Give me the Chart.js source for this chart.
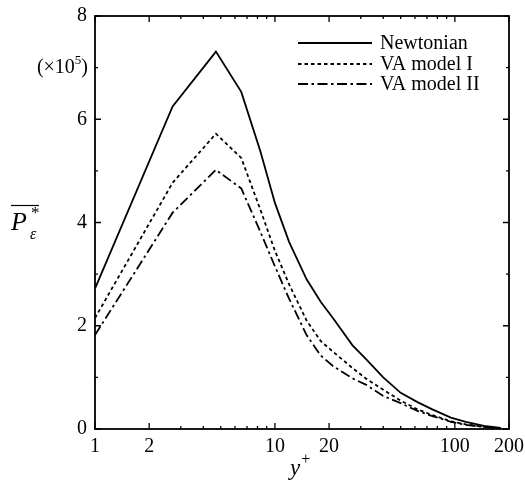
<!DOCTYPE html>
<html>
<head>
<meta charset="utf-8">
<script src="https://cdn.jsdelivr.net/npm/chart.js@4/dist/chart.umd.min.js"></script>
<style>
  html, body { margin: 0; padding: 0; background: #fff; }
  #wrap { width: 525px; height: 497px; position: relative; }
</style>
</head>
<body>
<div id="wrap"><canvas id="c"></canvas></div>
<script>
// ---- data ----
const yPlus = [1, 2.7, 4.7, 6.5, 8.3, 10, 12, 15, 18, 21, 27, 32, 40, 50, 62, 75, 95, 115, 145, 180];
const newtonian = [2.72, 6.25, 7.31, 6.53, 5.38, 4.38, 3.62, 2.90, 2.46, 2.15, 1.62, 1.36, 1.00, 0.70, 0.52, 0.38, 0.22, 0.14, 0.06, 0.02];
const vaModelI  = [2.15, 4.77, 5.72, 5.25, 4.25, 3.45, 2.80, 2.10, 1.70, 1.50, 1.18, 0.98, 0.76, 0.55, 0.38, 0.27, 0.15, 0.09, 0.04, 0.01];
const vaModelII = [1.82, 4.19, 5.02, 4.66, 3.82, 3.15, 2.52, 1.82, 1.42, 1.22, 0.98, 0.86, 0.64, 0.50, 0.35, 0.25, 0.14, 0.08, 0.04, 0.01];
const seriesLabels = ['Newtonian', 'VA model I', 'VA model II'];
const xTickValues = [1,2,3,4,5,6,7,8,9,10,20,30,40,50,60,70,80,90,100,200];
const xTickLabels = [1, 2, 10, 20, 100, 200];
const yTickValues = [0,1,2,3,4,5,6,7,8];
const yTickLabels = [0, 2, 4, 6, 8];

const FONT = '"Liberation Serif", "DejaVu Serif", serif';

function pts(vals) { return yPlus.map((x, i) => ({x: x, y: vals[i]})); }

const dashes = [[], [3.5, 3], [10, 3.5, 2.5, 3.5]];

const framePlugin = {
  id: 'frame',
  afterDatasetsDraw(chart) {
    const ctx = chart.ctx;
    const a = chart.chartArea;
    const xs = chart.scales.x, ys = chart.scales.y;
    ctx.save();
    ctx.strokeStyle = '#000';
    ctx.lineWidth = 1.8;
    ctx.setLineDash([]);
    ctx.strokeRect(a.left, a.top, a.right - a.left, a.bottom - a.top);
    ctx.lineWidth = 1.3;
    // x ticks (inward, bottom and top)
    xTickValues.forEach(v => {
      const px = xs.getPixelForValue(v);
      const len = xTickLabels.includes(v) ? 6 : 3;
      ctx.beginPath();
      ctx.moveTo(px, a.bottom); ctx.lineTo(px, a.bottom - len);
      ctx.moveTo(px, a.top); ctx.lineTo(px, a.top + len);
      ctx.stroke();
    });
    // y ticks (inward, left and right)
    yTickValues.forEach(v => {
      const py = ys.getPixelForValue(v);
      const len = yTickLabels.includes(v) ? 6 : 3;
      ctx.beginPath();
      ctx.moveTo(a.left, py); ctx.lineTo(a.left + len, py);
      ctx.moveTo(a.right, py); ctx.lineTo(a.right - len, py);
      ctx.stroke();
    });

    // legend inside plot
    const lx0 = a.right - 211, lx1 = a.right - 137, tx = a.right - 129;
    const rows = [a.top + 27, a.top + 48, a.top + 68];
    ctx.font = '20px ' + FONT;
    ctx.fillStyle = '#000';
    ctx.textBaseline = 'middle';
    ctx.textAlign = 'left';
    chart.data.datasets.forEach((ds, i) => {
      ctx.beginPath();
      ctx.lineWidth = 1.8;
      ctx.setLineDash(ds.borderDash || []);
      ctx.moveTo(lx0, rows[i]); ctx.lineTo(lx1, rows[i]);
      ctx.stroke();
      ctx.setLineDash([]);
      ctx.fillText(ds.label, tx, rows[i] + 1);
    });

    // (×10^5) multiplier
    const my = ys.getPixelForValue(7);
    ctx.font = '20px ' + FONT;
    const w1 = ctx.measureText('(×10').width;
    ctx.font = '13px ' + FONT;
    const w2 = ctx.measureText('5').width;
    ctx.font = '20px ' + FONT;
    const w3 = ctx.measureText(')').width;
    let sx = a.left - 7 - (w1 + w2 + w3);
    ctx.fillText('(×10', sx, my);
    ctx.font = '13px ' + FONT;
    ctx.fillText('5', sx + w1, my - 7);
    ctx.font = '20px ' + FONT;
    ctx.fillText(')', sx + w1 + w2, my);

    // y-axis title: overline P*_ε
    const ty = ys.getPixelForValue(4);
    ctx.font = 'italic 26px ' + FONT;
    ctx.fillText('P', 11, ty + 1);
    ctx.font = '17px ' + FONT;
    ctx.fillText('*', 31, ty - 9);
    ctx.font = 'italic 16px ' + FONT;
    ctx.fillText('ε', 30, ty + 12);
    ctx.beginPath();
    ctx.lineWidth = 1.2;
    ctx.moveTo(11, ty - 17); ctx.lineTo(39, ty - 17);
    ctx.stroke();

    // x-axis title: y+
    ctx.font = 'italic 23px ' + FONT;
    const wy = ctx.measureText('y').width;
    const cx = 302, cy = 469;
    ctx.fillText('y', cx - 12, cy);
    ctx.font = '16px ' + FONT;
    ctx.fillText('+', cx - 12 + wy + 1, cy - 9);
    ctx.restore();
  }
};

new Chart(document.getElementById('c'), {
  type: 'line',
  data: {
    datasets: [
      { label: seriesLabels[0], data: pts(newtonian), borderColor: '#000', borderWidth: 1.8, borderDash: dashes[0], pointRadius: 0, tension: 0, fill: false },
      { label: seriesLabels[1], data: pts(vaModelI), borderColor: '#000', borderWidth: 1.8, borderDash: dashes[1], pointRadius: 0, tension: 0, fill: false },
      { label: seriesLabels[2], data: pts(vaModelII), borderColor: '#000', borderWidth: 1.8, borderDash: dashes[2], pointRadius: 0, tension: 0, fill: false }
    ]
  },
  options: {
    responsive: true,
    maintainAspectRatio: false,
    animation: false,
    layout: { padding: { top: 16, right: 16, left: 0, bottom: 0 } },
    plugins: { legend: { display: false }, tooltip: { enabled: false } },
    scales: {
      x: {
        type: 'logarithmic',
        min: 1, max: 200,
        afterFit(s) { s.height = 68; s.paddingLeft = 0; s.paddingRight = 0; },
        afterBuildTicks(s) { s.ticks = xTickValues.map(v => ({ value: v })); },
        ticks: {
          autoSkip: false, maxRotation: 0, minRotation: 0,
          padding: 6,
          color: '#000',
          font: { family: FONT, size: 20 },
          callback: (v) => xTickLabels.includes(v) ? String(v) : ''
        },
        grid: { display: false, drawTicks: false },
        border: { display: false }
      },
      y: {
        type: 'linear',
        min: 0, max: 8,
        afterFit(s) { s.width = 95; s.paddingTop = 0; s.paddingBottom = 0; },
        afterBuildTicks(s) { s.ticks = yTickValues.map(v => ({ value: v })); },
        ticks: {
          padding: 8,
          color: '#000',
          font: { family: FONT, size: 20 },
          callback: (v) => yTickLabels.includes(v) ? String(v) : ''
        },
        grid: { display: false, drawTicks: false },
        border: { display: false }
      }
    }
  },
  plugins: [framePlugin]
});
</script>
</body>
</html>
